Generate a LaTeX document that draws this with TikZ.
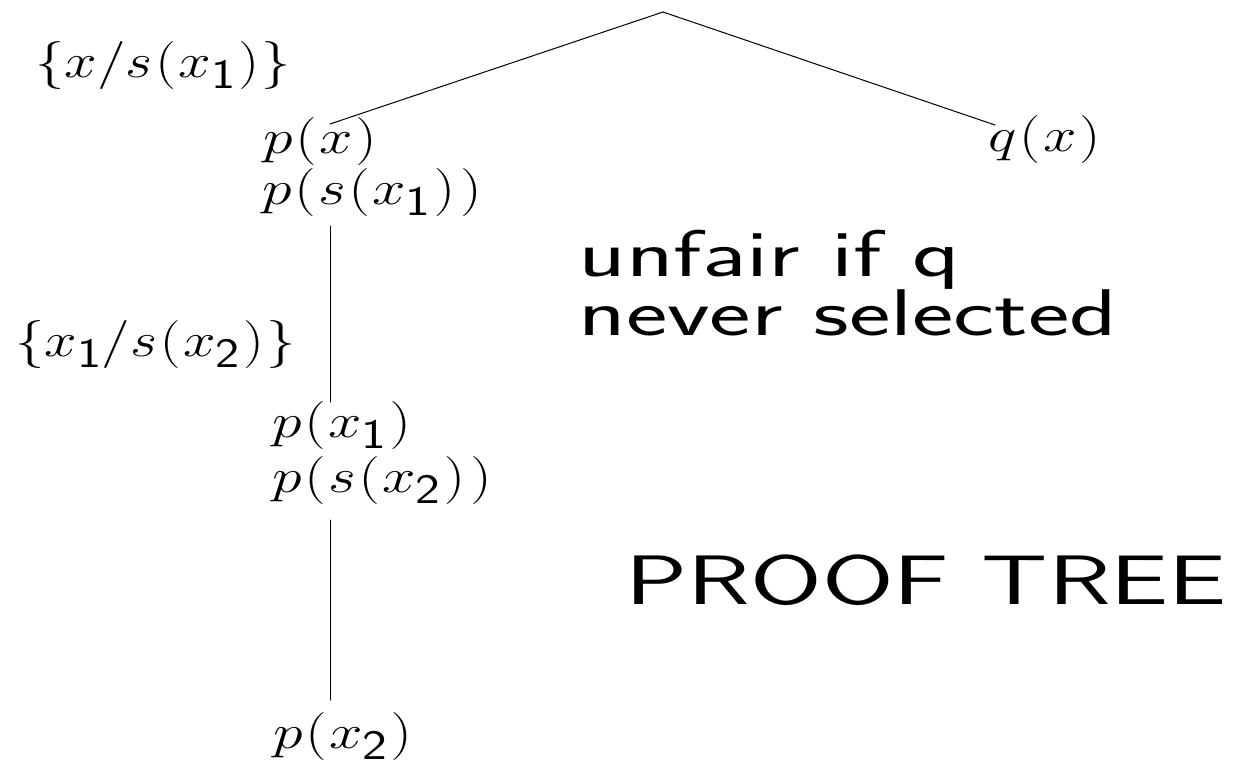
\RequirePackage{fix-cm}
\documentclass[tikz,border=0pt]{standalone}
\newcommand{\subd}[1]{_{\mbox{\fontsize{42}{42}\selectfont\sffamily #1}}}
\newcommand{\lp}{\mathopen{\mkern0.8mu(\mkern0.8mu}}
\newcommand{\rp}{\mathclose{\mkern0.8mu)\mkern0.8mu}}
\newcommand{\sansset}{\fontsize{66}{59}\selectfont\sffamily\lineskiplimit=-200pt\relax\lineskip=0pt\relax}
\newcommand{\titleset}{\fontsize{70}{70}\selectfont\sffamily}
\tikzset{
  mathlbl/.style={inner sep=0pt, anchor=base west, xscale=1.25, font=\fontsize{48}{50}\selectfont},
  sanslbl/.style={inner sep=0pt, anchor=base west, xscale=1.495, font=\sansset},
  titlelbl/.style={inner sep=0pt, anchor=base west, xscale=1.48, font=\titleset},
  edge/.style={line width=1pt, line cap=round}
}
\begin{document}
\begin{tikzpicture}[x=1pt, y=-1pt]
\useasboundingbox (0,0) rectangle (1234,766);
% labels
\node[mathlbl, xscale=0.975] (sub1) at (35,77) {$\{x/s\lp x\subd{1}\rp\}$};
\node[mathlbl] (px) at (263,153) {$p\lp x\rp$};
\node[mathlbl] (psx1) at (262,204) {$p\lp s\lp x\subd{1}\rp\rp$};
\node[mathlbl] (qx) at (988,151) {$q\lp x\rp$};
\node[mathlbl, xscale=0.975] (sub2) at (15,356) {$\{x\subd{1}/s\lp x\subd{2}\rp\}$};
\node[mathlbl] (px1) at (272,437) {$p\lp x\subd{1}\rp$};
\node[mathlbl] (psx2) at (272,492) {$p\lp s\lp x\subd{2}\rp\rp$};
\node[mathlbl] (px2) at (273,748) {$p\lp x\subd{2}\rp$};
\node[sanslbl, anchor=north west, align=left] (unfair) at (578,230) {unfair if q\\never selected};
\node[titlelbl] (title) at (625,604) {PROOF TREE};
% connectors
\coordinate (root) at (663,12);
\coordinate (lend) at (330,124);
\coordinate (rend) at (995,125);
\coordinate (v1top) at (330,226);
\coordinate (v1bot) at (330,402);
\coordinate (v2top) at (330,520);
\coordinate (v2bot) at (330,700);
\draw[edge] (root) -- (lend);
\draw[edge] (root) -- (rend);
\draw[edge] (v1top) -- (v1bot);
\draw[edge] (v2top) -- (v2bot);
\end{tikzpicture}
\end{document}
